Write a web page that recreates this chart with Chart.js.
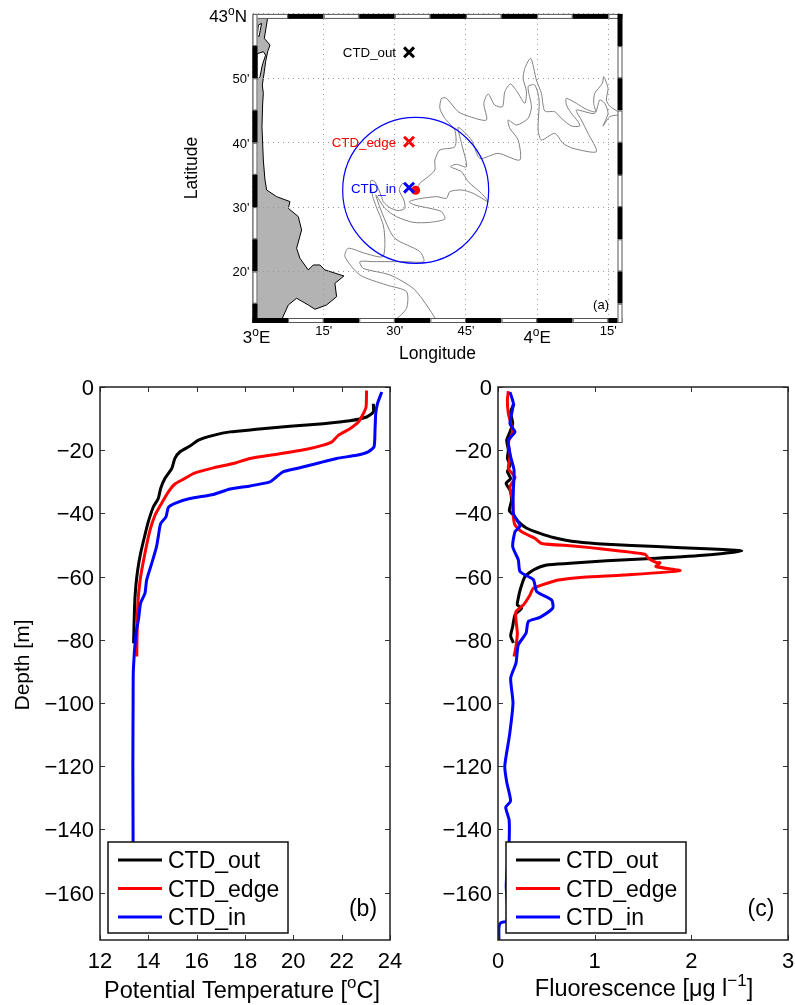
<!DOCTYPE html>
<html>
<head>
<meta charset="utf-8">
<title>CTD profiles</title>
<script src="https://cdn.jsdelivr.net/npm/chart.js@4/dist/chart.umd.min.js"></script>
<style>
  body { margin: 0; background: #fff; overflow: hidden; }
  canvas { position: absolute; }
</style>
</head>
<body>
<canvas id="map" width="460" height="370" style="left:180px;top:0"></canvas>
<canvas id="temp" width="410" height="635" style="left:0;top:370px"></canvas>
<canvas id="fluo" width="395" height="635" style="left:400px;top:370px"></canvas>
<script>
// Profile series
const seriesNames = ['CTD_out', 'CTD_edge', 'CTD_in'];
const seriesColors = ['#000000', '#ff0000', '#0000ff'];
const depthTicks = [0, -20, -40, -60, -80, -100, -120, -140, -160];
const tempTicks = [12, 14, 16, 18, 20, 22, 24];
const fluoTicks = [0, 1, 2, 3];

const tempOutT = [23.31, 23.31, 23.03, 22.34, 21.24, 19.86, 18.48, 17.38, 16.69, 16.07, 15.72, 15.31, 15.1, 14.97, 14.69, 14.51, 14.41, 14.21, 14, 13.86, 13.68, 13.56, 13.48, 13.43, 13.39];
const tempOutD = [-5.3, -7.9, -9.5, -10.7, -11.6, -12.4, -13.4, -14.2, -15.3, -16.8, -18.7, -20.5, -22.6, -25.8, -28.9, -32.1, -35.3, -37.9, -42.6, -46.8, -52.6, -57.9, -63.2, -69.5, -81.1];
const tempEdgeT = [23.03, 23.01, 22.9, 22.69, 22.34, 21.86, 21.59, 21.24, 20.55, 19.31, 18.21, 17.52, 16.69, 15.86, 15.52, 15.1, 14.83, 14.55, 14.28, 14.07, 13.86, 13.66, 13.56, 13.52];
const tempEdgeD = [-1.1, -6.3, -8.4, -11.1, -13.2, -15.3, -17.4, -18.4, -19.7, -21.3, -22.6, -24.2, -25.6, -27.4, -28.9, -30.7, -33.2, -36.8, -40.5, -45.3, -52.6, -61.1, -69.5, -85.3];
const tempInT = [23.66, 23.48, 23.41, 23.38, 23.34, 23.1, 22.62, 21.79, 20.97, 20.14, 19.59, 19.31, 19.03, 18.21, 17.38, 16.69, 15.72, 15.1, 14.83, 14.73, 14.51, 14.41, 14.34, 14.14, 13.93, 13.86, 13.68, 13.59, 13.49, 13.38, 13.37, 13.36, 13.37, 13.37];
const tempInD = [-1.6, -5.3, -8.4, -13.7, -18.9, -20.5, -21.6, -22.6, -24.2, -25.8, -26.8, -28.4, -30, -31.3, -32.3, -34, -35.3, -36.8, -38.1, -41.1, -43.2, -47.4, -50.5, -55.8, -61.1, -65.3, -68.4, -73.7, -77.9, -89.5, -100, -120, -145, -160];

const fluoOutF = [0.166, 0.131, 0.152, 0.117, 0.09, 0.107, 0.097, 0.124, 0.097, 0.131, 0.083, 0.124, 0.141, 0.117, 0.159, 0.21, 0.297, 0.434, 0.572, 0.814, 1.124, 1.641, 2.159, 2.521, 2.159, 1.641, 1.124, 0.745, 0.503, 0.366, 0.279, 0.234, 0.21, 0.2, 0.245, 0.176, 0.152, 0.131, 0.159];
const fluoOutD = [-5.3, -7.9, -11.6, -14.7, -16.8, -20, -22.6, -24.7, -26.8, -29, -30.5, -32.6, -35.8, -39.2, -40.5, -42.6, -44.7, -46.3, -47.6, -49, -49.8, -50.5, -51.2, -51.9, -53.2, -54.2, -55, -55.8, -56.3, -57.9, -60, -63.7, -66.8, -69, -70, -72.1, -75.8, -78.7, -81];
const fluoEdgeF = [0.107, 0.097, 0.107, 0.152, 0.107, 0.124, 0.107, 0.176, 0.124, 0.152, 0.159, 0.176, 0.245, 0.383, 0.452, 0.779, 1.124, 1.521, 1.555, 1.641, 1.676, 1.634, 1.883, 1.297, 0.883, 0.624, 0.366, 0.331, 0.262, 0.186, 0.186, 0.2, 0.186, 0.166];
const fluoEdgeD = [-1.3, -4.2, -8.4, -14.2, -17.4, -22.1, -25.8, -28.6, -31.6, -35.8, -41, -43.7, -45.8, -47.9, -49.5, -50.3, -51.4, -52.9, -54.2, -55.6, -55.6, -56.8, -58.1, -59.5, -60.2, -61.1, -63.7, -65.8, -69, -71.1, -73.7, -77.9, -82.1, -85.3];
const fluoInF = [0.124, 0.159, 0.124, 0.176, 0.107, 0.131, 0.166, 0.159, 0.159, 0.228, 0.176, 0.152, 0.21, 0.228, 0.366, 0.4, 0.555, 0.566, 0.434, 0.314, 0.29, 0.21, 0.186, 0.131, 0.155, 0.12, 0.07, 0.09, 0.13, 0.08, 0.115, 0.115, 0.1, 0.085, 0.1, 0.09, 0.03, 0.01, 0.01];
const fluoInD = [-1.6, -5.3, -11.6, -14.2, -16.8, -22.1, -26.3, -32.6, -40, -44, -45.8, -50.5, -54.7, -58.4, -61, -64.7, -67.4, -70, -72.9, -74.2, -77.9, -81.6, -87.4, -92.1, -100, -110, -120, -125, -131, -133, -137, -144, -150, -158, -165, -169, -169.5, -171, -175];

// Map, in arc minutes east of 3E and north of 42N
const lonTicks = [0, 15, 30, 45, 60, 75];
const lonLabels = ['3^{o}E', "15'", "30'", "45'", '4^{o}E', "15'"];
const latTicks = [20, 30, 40, 50, 60];
const latLabels = ["20'", "30'", "40'", "50'", '43^{o}N'];

const coastLon = [0, 3.33, 2.49, 3.69, 3.19, 2.77, 2.49, 2.07, 2.28, 2.14, 2, 2.28, 2.63, 2.98, 5.09, 7.9, 7.55, 9.65, 10.35, 9.3, 10, 11.76, 12.81, 14.21, 15.27, 19.27, 17.37, 17.73, 15.62, 13.16, 11.76, 9.3, 7.55, 6.28, 5.9, 0, 0];
const coastLat = [60, 60, 56.2, 55.17, 54.13, 52.58, 51.03, 48.96, 47.66, 46, 42.5, 37.31, 34.21, 32.66, 31.62, 30.85, 29.81, 28.52, 26.45, 23.6, 22.05, 20.24, 21.01, 21.01, 20.24, 19.3, 18.16, 16.09, 14.8, 14.13, 14.8, 15.84, 14.8, 12.73, 12, 12, 60];
const lagoonLon = [0.95, 2.28, 2.77, 2.07, 1.58, 0.95, 0.95];
const lagoonLat = [53.8, 54.13, 53.6, 52.06, 50.25, 49.73, 53.8];
const pondLon = [1.23, 1.93, 1.37, 1.02, 1.23];
const pondLat = [58.27, 58.53, 56.46, 56.72, 58.27];

const contourALon = [77.05, 75.3, 74.6, 74.95, 74.03, 73.75, 72.14, 71.93, 72.28, 70.38, 68.28, 66.17, 66.17, 67.23, 68.63, 68.98, 67.23, 65.12, 63.72, 61.61, 60.91, 59.85, 58.66, 57.4, 57.05, 57.75, 57.4, 55.78, 54.38, 53.19, 52.69, 51.08, 49.68, 48.76, 49.32, 45.81, 43.36, 40.9, 39.85, 39.5, 40.55, 42.66, 42.66, 39.5, 38.44, 38.44, 37.03, 35.28, 34.44, 31.77, 30.93, 31.91, 32.12, 30.72, 28.96, 27.56, 27.2, 25.8, 24.89, 25.45, 27.56, 27.91, 27.42, 23.7, 20.19, 19.48, 22.64, 28.26, 32.47, 32.47, 30.01];
const contourALat = [44.81, 45.69, 46.63, 48.44, 50.25, 49.21, 47.66, 46.11, 44.81, 45.18, 46.11, 46.88, 45.85, 44.56, 43.26, 42.59, 42.59, 43.78, 44.81, 44.92, 47.66, 49.73, 53.1, 51.54, 49.99, 47.92, 46.11, 47.92, 49.11, 47.92, 45.59, 45.85, 47.56, 46.11, 43.52, 44.04, 44.81, 46.88, 46.88, 45.33, 43.78, 41.96, 39.38, 38.86, 37.31, 35.76, 34.72, 33.69, 32.5, 33.69, 32.65, 31.1, 29.81, 29.45, 29.91, 30.84, 31.62, 33.95, 34.1, 31.36, 27.22, 24.37, 22.3, 22.82, 23.6, 22.3, 19.46, 17.9, 16.87, 14.28, 12.4];
const contourBLon = [77.05, 75.3, 73.89, 74.95, 74.25, 73.19, 72.14, 68.28, 69.33, 70.74, 72.49, 67.58, 65.47, 63.72, 60.91, 60.21, 60.42, 59.5, 58.1, 58.8, 58.1, 55.64, 53.89, 54.24, 56, 56.34, 51.78, 47.92, 46.17, 43.36, 44.06, 45.11, 43, 41.74, 44.05, 45.46, 48.27, 49.67, 46.51, 44.05, 41.6, 40.89, 38.79, 34.93, 33.03, 34.22, 37.38, 39.84, 40.54, 37.38, 33.87, 30.36, 27.91, 26.01, 27.91, 30.01, 35.28, 36.12, 32.47, 25.45, 22.64, 23.34, 28.96, 33.87, 36.68, 38.79];
const contourBLat = [44.3, 44.04, 42.59, 44.56, 46.11, 46.63, 44.56, 45.07, 43.52, 41.45, 38.6, 39.12, 39.9, 41.45, 40.42, 41.97, 46.63, 48.96, 48.7, 45.59, 43.78, 42.74, 43.52, 42.23, 40.42, 37.31, 38.34, 37.57, 40.42, 42.38, 39.9, 36.27, 36.64, 36.28, 35.5, 33.95, 32.14, 30.84, 32.14, 32.65, 32.4, 31.36, 31.62, 31.26, 30.84, 30.32, 29.81, 29.29, 28.15, 27.63, 27.63, 28.51, 29.81, 31.88, 28, 25.15, 23.08, 21.53, 21.53, 21.53, 21.53, 20.49, 19.46, 17.38, 14.8, 12.4];

const stationLon = [33, 33, 33];
const stationLat = [54.03, 40.16, 33.02];
const eddyLon = [34.4];
const eddyLat = [32.6];

// Helpers
const FONT = '"Liberation Sans", Arial, sans-serif';

function zip(xs, ys) {
  return xs.map((x, i) => ({ x: x, y: ys[i] }));
}

// Text with ^{...} superscripts, drawn piece by piece
function drawRich(ctx, text, x, y, size, opts) {
  opts = opts || {};
  const parts = text.split(/\^\{(.*?)\}/);
  const fontOf = i => (i % 2 ? Math.round(size * 0.72) : size) + 'px ' + FONT;
  let total = 0;
  parts.forEach((p, i) => {
    ctx.font = fontOf(i);
    total += ctx.measureText(p).width;
  });
  ctx.save();
  ctx.translate(x, y);
  if (opts.rotate) ctx.rotate(opts.rotate);
  ctx.fillStyle = opts.color || '#000';
  ctx.textAlign = 'left';
  ctx.textBaseline = 'alphabetic';
  let cx = opts.align === 'right' ? -total : opts.align === 'left' ? 0 : -total / 2;
  parts.forEach((p, i) => {
    ctx.font = fontOf(i);
    ctx.fillText(p, cx, i % 2 ? -size * 0.42 : 0);
    cx += ctx.measureText(p).width;
  });
  ctx.restore();
}

// Inward ticks on all four sides plus the box
const profileFrame = {
  id: 'profileFrame',
  afterDatasetsDraw(chart) {
    const ctx = chart.ctx, a = chart.chartArea;
    const len = 5;
    ctx.save();
    ctx.strokeStyle = '#333';
    ctx.lineWidth = 1;
    ctx.beginPath();
    chart.scales.x.ticks.forEach(t => {
      const p = Math.round(chart.scales.x.getPixelForValue(t.value)) + 0.5;
      ctx.moveTo(p, a.top); ctx.lineTo(p, a.top + len);
      ctx.moveTo(p, a.bottom); ctx.lineTo(p, a.bottom - len);
    });
    chart.scales.y.ticks.forEach(t => {
      const p = Math.round(chart.scales.y.getPixelForValue(t.value)) + 0.5;
      ctx.moveTo(a.left, p); ctx.lineTo(a.left + len, p);
      ctx.moveTo(a.right, p); ctx.lineTo(a.right - len, p);
    });
    ctx.stroke();
    ctx.strokeStyle = '#222';
    ctx.lineWidth = 1.5;
    ctx.strokeRect(a.left, a.top, a.right - a.left, a.bottom - a.top);
    ctx.restore();
  }
};

// Legend box and panel letter inside the axes
const profileLegend = {
  id: 'profileLegend',
  afterDraw(chart, args, o) {
    const ctx = chart.ctx, a = chart.chartArea;
    const left = a.left + 8, top = a.bottom - 98, w = 180, h = 91;
    ctx.save();
    ctx.fillStyle = '#fff';
    ctx.fillRect(left, top, w, h);
    ctx.strokeStyle = '#111';
    ctx.lineWidth = 1.5;
    ctx.strokeRect(left, top, w, h);
    seriesNames.forEach((name, i) => {
      const y = top + 18 + i * 28.5;
      ctx.strokeStyle = seriesColors[i];
      ctx.lineWidth = 3;
      ctx.beginPath();
      ctx.moveTo(left + 10, y);
      ctx.lineTo(left + 54, y);
      ctx.stroke();
      drawRich(ctx, name, left + 60, y + 8, 23, { align: 'left' });
    });
    ctx.restore();
    drawRich(ctx, o.letter, a.right - 27, a.bottom - 24, 23);
    drawRich(ctx, o.xTitle, (a.left + a.right) / 2 + o.xShift, o.xBase, 23.5);
  }
};

function makeProfileChart(id, xMin, xMax, xTicks, curves, o) {
  return new Chart(document.getElementById(id), {
    type: 'scatter',
    data: {
      datasets: curves.map((pts, i) => ({
        label: seriesNames[i],
        data: pts,
        showLine: true,
        borderColor: seriesColors[i],
        borderWidth: 3,
        pointRadius: 0,
        tension: 0.2,
        order: 3 - i
      }))
    },
    options: {
      responsive: false,
      animation: false,
      events: [],
      layout: { autoPadding: false, padding: { left: 0, top: 17, right: o.right, bottom: 0 } },
      plugins: {
        legend: { display: false },
        tooltip: { enabled: false },
        profileLegend: o
      },
      scales: {
        x: {
          type: 'linear',
          min: xMin,
          max: xMax,
          afterBuildTicks: s => { s.ticks = xTicks.map(value => ({ value })); },
          afterFit: s => { s.height = 65; s.paddingLeft = 0; s.paddingRight = 0; },
          grid: { display: false, drawTicks: false },
          border: { display: false },
          ticks: { color: '#000', font: { family: FONT, size: 22 }, padding: 9, maxRotation: 0, autoSkip: false }
        },
        y: {
          type: 'linear',
          min: -175,
          max: 0,
          afterBuildTicks: s => { s.ticks = depthTicks.map(value => ({ value })); },
          afterFit: s => { s.width = o.yWidth; s.paddingTop = 0; s.paddingBottom = 0; },
          grid: { display: false, drawTicks: false },
          border: { display: false },
          ticks: {
            color: '#000',
            font: { family: FONT, size: 22 },
            padding: 6,
            labelOffset: 2,
            autoSkip: false,
            callback: v => String(v).replace('-', '\u2212')
          }
        }
      }
    },
    plugins: [profileFrame, profileLegend, {
      id: 'depthTitle',
      afterDraw(chart) {
        if (o.yTitle) drawRich(chart.ctx, o.yTitle, 29, 295, 21, { rotate: -Math.PI / 2 });
      }
    }]
  });
}

makeProfileChart('temp', 12, 24, tempTicks,
  [zip(tempOutT, tempOutD), zip(tempEdgeT, tempEdgeD), zip(tempInT, tempInD)],
  { right: 20, yWidth: 100, letter: '(b)', xTitle: 'Potential Temperature [^{o}C]', xShift: -3, xBase: 628, yTitle: 'Depth [m]' });

makeProfileChart('fluo', 0, 3, fluoTicks,
  [zip(fluoOutF, fluoOutD), zip(fluoEdgeF, fluoEdgeD), zip(fluoInF, fluoInD)],
  { right: 7, yWidth: 98, letter: '(c)', xTitle: 'Fluorescence [\u03bcg l^{\u22121}]', xShift: 1, xBase: 626 });

// Map frame: alternating black and white band, plus all the text
const mapFrame = {
  id: 'mapFrame',
  afterDraw(chart) {
    const ctx = chart.ctx, a = chart.chartArea;
    const sx = chart.scales.x, sy = chart.scales.y;
    const band = 5;
    const piece = (x, y, w, h, black) => {
      ctx.fillStyle = black ? '#000' : '#fff';
      ctx.fillRect(x, y, w, h);
      if (!black) ctx.strokeRect(x + 0.5, y + 0.5, w - 1, h - 1);
    };
    ctx.save();
    ctx.strokeStyle = '#555';
    ctx.lineWidth = 1;
    let k = 0;
    for (let m = 0; m < 78; m += 7.5, k++) {
      const x0 = sx.getPixelForValue(m), x1 = sx.getPixelForValue(Math.min(m + 7.5, 78));
      piece(x0, a.top, x1 - x0, band, k % 2 === 1);
      piece(x0, a.bottom - band, x1 - x0, band, k % 2 === 0);
    }
    k = 0;
    for (let m = 60; m > 12; m -= 5, k++) {
      const y0 = sy.getPixelForValue(m), y1 = sy.getPixelForValue(Math.max(m - 5, 12));
      piece(a.left, y0, band, y1 - y0, k % 2 === 1);
      piece(a.right - band, y0, band, y1 - y0, k % 2 === 0);
    }
    ctx.restore();

    lonTicks.forEach((v, i) => {
      const big = lonLabels[i].includes('^');
      let x = sx.getPixelForValue(v);
      if (v === 0) x += 4;
      drawRich(ctx, lonLabels[i], x, big ? 343 : 335, big ? 17 : 13);
    });
    latTicks.forEach((v, i) => {
      const big = latLabels[i].includes('^');
      const y = sy.getPixelForValue(v) + (big ? 8 : 5);
      drawRich(ctx, latLabels[i], big ? 67 : 69.5, y, big ? 17 : 13, { align: 'right' });
    });
    seriesNames.forEach((name, i) => {
      drawRich(ctx, name, sx.getPixelForValue(stationLon[i]) - 13,
        sy.getPixelForValue(stationLat[i]) + 5, 13.3, { align: 'right', color: seriesColors[i] });
    });
    drawRich(ctx, '(a)', 429, 309, 13, { align: 'right' });
    drawRich(ctx, 'Longitude', 257.5, 359, 17.5);
    drawRich(ctx, 'Latitude', 17, 168, 17.5, { rotate: -Math.PI / 2 });
  }
};

const contourStyle = {
  showLine: true, borderColor: '#808080', borderWidth: 1, pointRadius: 0, tension: 0.25, order: 5
};

new Chart(document.getElementById('map'), {
  type: 'scatter',
  data: {
    datasets: [
      { data: zip(coastLon, coastLat), showLine: true, fill: 'shape', backgroundColor: '#b3b3b3', borderColor: '#000', borderWidth: 1, pointRadius: 0, order: 8 },
      { data: zip(lagoonLon, lagoonLat), showLine: true, fill: 'shape', backgroundColor: '#fff', borderColor: '#000', borderWidth: 1, pointRadius: 0, order: 7 },
      { data: zip(pondLon, pondLat), showLine: true, fill: 'shape', backgroundColor: '#fff', borderColor: '#000', borderWidth: 1, pointRadius: 0, order: 6 },
      Object.assign({ data: zip(contourALon, contourALat) }, contourStyle),
      Object.assign({ data: zip(contourBLon, contourBLat) }, contourStyle),
      { data: zip(eddyLon, eddyLat), pointRadius: 73, pointBorderColor: '#0000ff', pointBackgroundColor: 'transparent', pointBorderWidth: 1.2, order: 4 },
      { data: zip(eddyLon, eddyLat), pointRadius: 4.5, pointBorderWidth: 0, pointBackgroundColor: '#ff0000', order: 3 },
      {
        data: zip(stationLon, stationLat),
        pointStyle: 'crossRot',
        pointRadius: 7,
        pointBorderWidth: 3,
        pointBorderColor: seriesColors,
        order: 1
      }
    ]
  },
  options: {
    responsive: false,
    animation: false,
    events: [],
    layout: { autoPadding: false, padding: { left: 72.5, top: 13.9, right: 17.5, bottom: 47 } },
    plugins: { legend: { display: false }, tooltip: { enabled: false } },
    scales: {
      x: {
        type: 'linear', min: 0, max: 78,
        afterBuildTicks: s => { s.ticks = lonTicks.map(value => ({ value })); },
        afterFit: s => { s.height = 0; },
        grid: { color: '#999', z: 1, drawTicks: false },
        border: { display: false, dash: [1, 4] },
        ticks: { display: false }
      },
      y: {
        type: 'linear', min: 12, max: 60,
        afterBuildTicks: s => { s.ticks = latTicks.map(value => ({ value })); },
        afterFit: s => { s.width = 0; },
        grid: { color: '#999', z: 1, drawTicks: false },
        border: { display: false, dash: [1, 4] },
        ticks: { display: false }
      }
    }
  },
  plugins: [mapFrame]
});
</script>
</body>
</html>
